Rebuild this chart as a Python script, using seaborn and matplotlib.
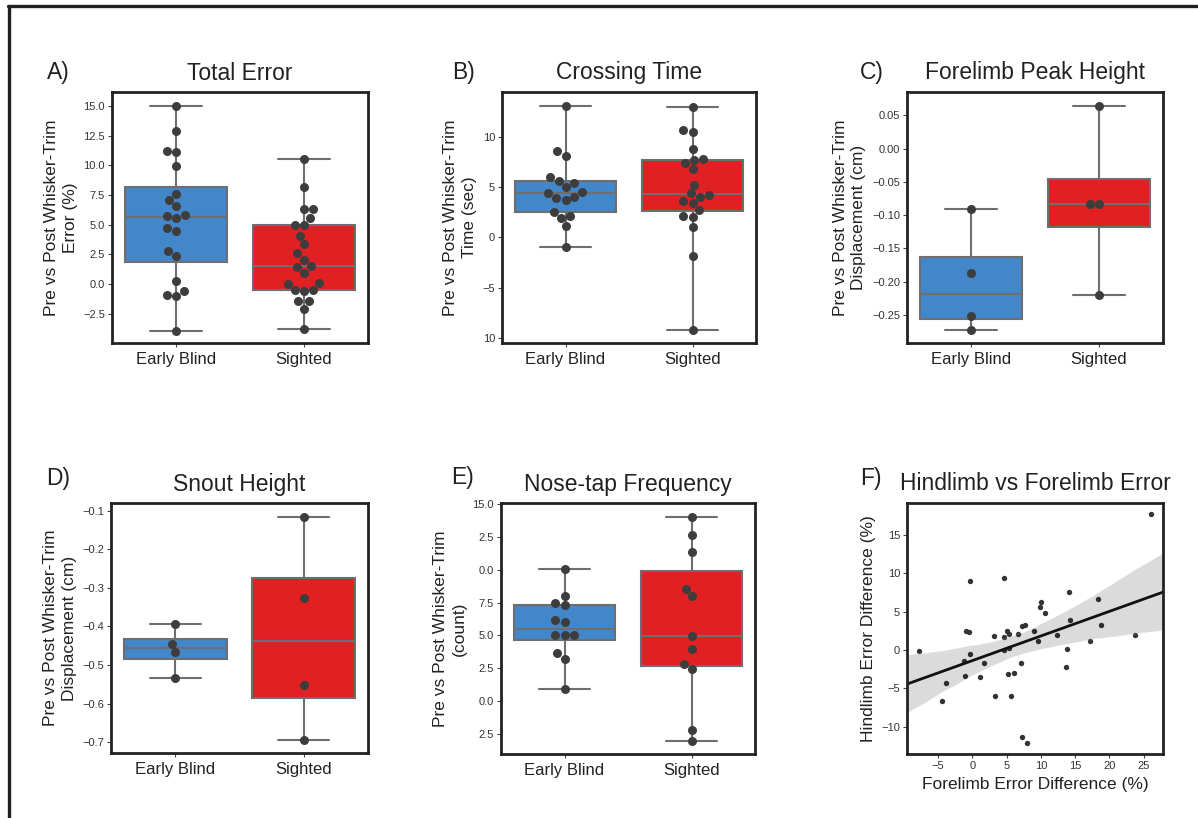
import numpy as np
import pandas as pd
import matplotlib
matplotlib.use("Agg")
import matplotlib.pyplot as plt
import seaborn as sns
from matplotlib.ticker import MultipleLocator

# ---- datos ----
grupos = ["Early Blind", "Sighted"]

total_eb = [15.0, 12.85, 11.2, 11.1, 9.95, 7.55, 7.05, 6.55, 5.8, 5.7, 5.55, 4.7, 4.5,
            2.75, 2.4, 0.3, -0.55, -0.95, -1.0, -3.95]
total_si = [10.5, 8.15, 6.3, 6.3, 5.55, 5.0, 4.95, 4.05, 3.35, 2.6, 2.05, 1.5, 1.45,
            0.95, 0.1, 0.05, -0.5, -0.55, -0.5, -1.4, -1.45, -2.05, -3.75]

cruce_eb = [13.07, 8.57, 8.13, 6.0, 5.63, 5.4, 5.0, 4.57, 4.4, 4.07, 3.9, 3.73, 2.5,
            2.17, 1.9, 1.13, -1.0]
cruce_si = [13.0, 10.73, 10.5, 8.83, 7.83, 7.73, 7.4, 6.83, 5.23, 4.4, 4.23, 4.07,
            3.67, 3.47, 2.73, 2.17, 2.07, 1.07, -1.83, -9.27]

pico_eb = [-0.0913, -0.1866, -0.2508, -0.2718]
pico_si = [0.0642, -0.0828, -0.0838, -0.2202]

hocico_eb = [-0.393, -0.445, -0.467, -0.533]
hocico_si = [-0.1164, -0.3256, -0.551, -0.6938]

toques_eb = [10.03, 8.04, 7.47, 7.3, 6.2, 6.0, 5.0, 5.0, 5.0, 3.65, 3.21, 0.89]
toques_si = [14.06, 12.65, 11.35, 8.55, 7.98, 4.92, 3.98, 2.83, 2.45, -2.22, -3.06]

# etiquetas de los ejes tal como aparecen en la figura
cruce_ticks = [-10, -5, 0, 5, 10]
cruce_labels = ["10", "\u22125", "0", "5", "10"]
toques_ticks = [15.0, 12.5, 10.0, 7.5, 5.0, 2.5, 0.0, -2.5]
toques_labels = ["15.0", "2.5", "0.0", "7.5", "5.0", "2.5", "0.0", "2.5"]

forelimb = [-7.82, -4.37, -3.78, -1.24, -0.99, -0.85, -0.41, -0.37, -0.27, 1.19, 1.73,
            3.24, 3.29, 4.56, 4.61, 4.66, 5.05, 5.15, 5.34, 5.34, 5.59, 6.07, 6.61,
            7.10, 7.20, 7.68, 7.29, 8.02, 8.95, 9.63, 9.93, 10.02, 10.56, 12.41,
            13.73, 13.83, 14.12, 14.27, 17.10, 18.32, 18.76, 23.73, 26.12]
hindlimb = [-0.18, -6.63, -4.26, -1.49, -3.38, 2.46, 2.37, -0.53, 8.96, -3.51, -1.71,
            1.80, -6.02, 9.40, 1.71, -0.04, 2.55, -3.12, 2.07, 0.22, -6.06, -2.94, 2.07,
            -1.63, 3.08, 3.30, -11.38, -12.08, 2.50, 1.14, 5.58, 6.24, 4.83, 1.93,
            -2.24, 0.13, 7.60, 3.87, 1.23, 6.72, 3.21, 2.02, 17.71]

colores = {"Early Blind": "#4287c9", "Sighted": "#e02023"}
gris = "#6e6e6e"
ylabel_base = "Pre vs Post Whisker-Trim"

sns.set_style("white")
plt.rcParams["font.family"] = ["Liberation Sans", "DejaVu Sans"]
plt.rcParams["text.color"] = "#222222"
plt.rcParams["axes.labelcolor"] = "#222222"


def estilo_ejes(ax):
    for lado in ax.spines.values():
        lado.set_linewidth(2.0)
        lado.set_color("#222222")
    ax.tick_params(left=True, bottom=True, length=3, width=0.8, color="#444444")
    ax.tick_params(axis="y", labelsize=8, labelcolor="#333333", pad=2)


def panel_caja(ax, eb, si, unidad, titulo, ylim):
    df = pd.DataFrame({
        "grupo": ["Early Blind"] * len(eb) + ["Sighted"] * len(si),
        "valor": list(eb) + list(si)
    })
    sns.boxplot(data=df, x="grupo", y="valor", hue="grupo", palette=colores,
                saturation=1, whis=(0, 100), width=0.8, linecolor=gris,
                linewidth=1.5, legend=False, ax=ax)
    sns.swarmplot(data=df, x="grupo", y="valor", color="#3d3d3d", size=6.5, ax=ax)
    ax.set_ylim(*ylim)
    ax.set_xlabel("")
    ax.set_ylabel(ylabel_base + "\n" + unidad, fontsize=12.5, linespacing=1.3)
    ax.set_title(titulo, fontsize=16.5, pad=9)
    ax.tick_params(axis="x", labelsize=12, labelcolor="#222222")
    estilo_ejes(ax)


fig = plt.figure(figsize=(11.98, 8.18), dpi=100)

W, H = 1198, 818


def caja_px(x0, y0, x1, y1):
    return fig.add_axes([x0 / W, 1 - y1 / H, (x1 - x0) / W, (y1 - y0) / H])


ax_a = caja_px(112, 92, 368, 343)
ax_b = caja_px(502, 92, 756, 343)
ax_c = caja_px(907, 92, 1163, 343)
ax_d = caja_px(111, 503, 368, 753)
ax_e = caja_px(501, 503, 755, 754)
ax_f = caja_px(907, 503, 1163, 754)

panel_caja(ax_a, total_eb, total_si, "Error (%)", "Total Error", (-4.95, 16.17))
panel_caja(ax_b, cruce_eb, cruce_si, "Time (sec)", "Crossing Time", (-10.53, 14.5))
ax_b.set_yticks(cruce_ticks)
ax_b.set_yticklabels(cruce_labels)
panel_caja(ax_c, pico_eb, pico_si, "Displacement (cm)", "Forelimb Peak Height",
           (-0.2919, 0.0848))
panel_caja(ax_d, hocico_eb, hocico_si, "Displacement (cm)", "Snout Height",
           (-0.7283, -0.0801))
panel_caja(ax_e, toques_eb, toques_si, "(count)", "Nose-tap Frequency", (-4.05, 15.1))
ax_e.set_yticks(toques_ticks)
ax_e.set_yticklabels(toques_labels)

# F) regresion
sns.regplot(x=forelimb, y=hindlimb, ax=ax_f, truncate=False, seed=0,
            scatter_kws={"s": 15, "color": "#333333", "alpha": 1, "linewidths": 0},
            line_kws={"color": "#111111", "linewidth": 2})
ax_f.set_xlabel("Forelimb Error Difference (%)", fontsize=12.5)
ax_f.set_ylabel("Hindlimb Error Difference (%)", fontsize=12.5)
ax_f.set_title("Hindlimb vs Forelimb Error", fontsize=16.5, pad=9)
ax_f.xaxis.set_major_locator(MultipleLocator(5))
ax_f.yaxis.set_major_locator(MultipleLocator(5))
estilo_ejes(ax_f)
ax_f.tick_params(axis="x", labelsize=8, labelcolor="#333333", pad=2)

# letras de los paneles
for letra, x, y in [("A)", 47, 72), ("B)", 452, 72), ("C)", 860, 72),
                    ("D)", 46, 478), ("E)", 451, 477), ("F)", 860, 478)]:
    fig.text(x / W, 1 - y / H, letra, fontsize=16.5, va="center", ha="left")

# marco superior e izquierdo
fig.add_artist(plt.Line2D([8 / W, 1], [1 - 5.5 / H, 1 - 5.5 / H], color="#231f20",
                          linewidth=2.4, transform=fig.transFigure))
fig.add_artist(plt.Line2D([8.5 / W, 8.5 / W], [0, 1 - 5.5 / H], color="#231f20",
                          linewidth=2.4, transform=fig.transFigure))

fig.savefig("out.png", dpi=100)
